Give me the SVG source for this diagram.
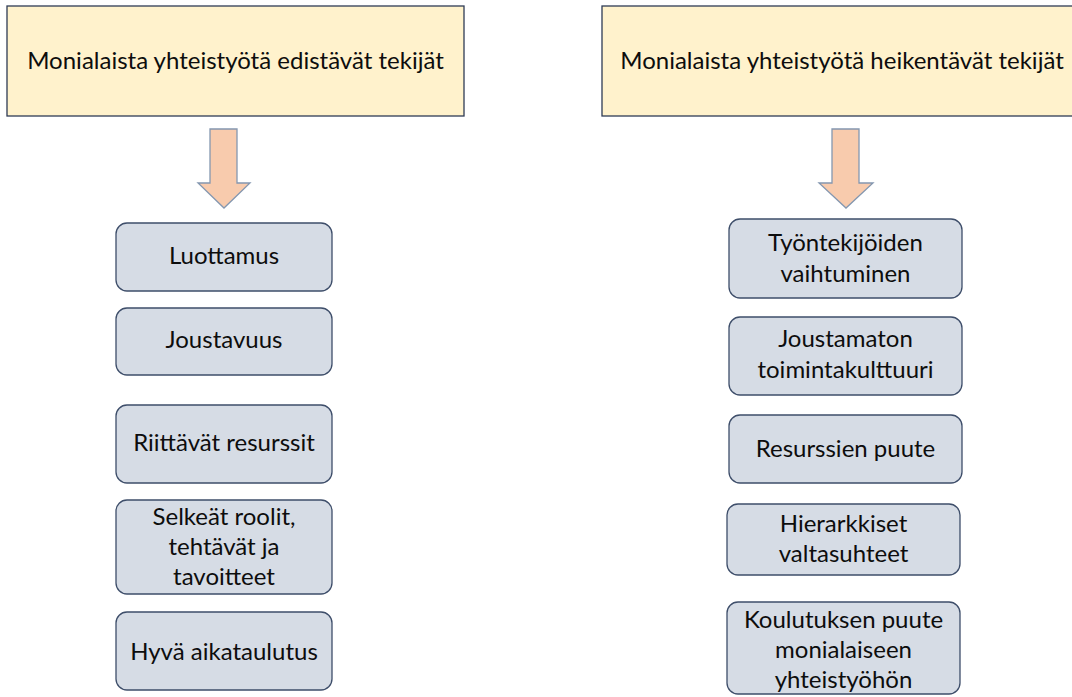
<svg xmlns="http://www.w3.org/2000/svg" width="1072" height="697" viewBox="0 0 1072 697">
  <style>
    .head { fill: #FFF2CC; stroke: #2F3B55; stroke-width: 1.3; }
    .item { fill: #D6DCE5; stroke: #3E4E6A; stroke-width: 1.3; }
    .arrow { fill: #F8CBAD; stroke: #8497B0; stroke-width: 1.3; stroke-linejoin: miter; }
    text { font-family: Lato, "Liberation Sans", sans-serif; font-size: 24px; fill: #0d0d0d; text-anchor: middle; }
  </style>
  <rect width="1072" height="697" fill="#fff"/>

  <!-- column headers -->
  <g id="head-left">
    <rect class="head" x="7" y="6" width="457" height="110"/>
    <text x="235.5" y="69">Monialaista yhteistyötä edistävät tekijät</text>
  </g>
  <g id="head-right">
    <rect class="head" x="602" y="6" width="480" height="110"/>
    <text x="842" y="69">Monialaista yhteistyötä heikentävät tekijät</text>
  </g>

  <!-- block arrows -->
  <g id="connectors">
    <polygon class="arrow" points="210,129 237,129 237,183 250,183 224,208 198,183 210,183"/>
    <polygon class="arrow" points="832,129 859,129 859,183 873,183 846,208 819,183 832,183"/>
  </g>

  <!-- promoting factors -->
  <g id="luottamus">
    <rect class="item" x="116" y="223" width="216" height="68" rx="11"/>
    <text x="224" y="264">Luottamus</text>
  </g>
  <g id="joustavuus">
    <rect class="item" x="116" y="308" width="216" height="67" rx="11"/>
    <text x="224" y="348">Joustavuus</text>
  </g>
  <g id="resurssit">
    <rect class="item" x="116" y="405" width="216" height="78" rx="11"/>
    <text x="224" y="451">Riittävät resurssit</text>
  </g>
  <g id="roolit">
    <rect class="item" x="116" y="500" width="216" height="94" rx="11"/>
    <text x="224" y="525">Selkeät roolit,</text>
    <text x="224" y="555">tehtävät ja</text>
    <text x="224" y="585">tavoitteet</text>
  </g>
  <g id="aikataulutus">
    <rect class="item" x="116" y="612" width="216" height="78" rx="11"/>
    <text x="224" y="660">Hyvä aikataulutus</text>
  </g>

  <!-- weakening factors -->
  <g id="vaihtuminen">
    <rect class="item" x="729" y="219" width="233" height="79" rx="11"/>
    <text x="845.5" y="251">Työntekijöiden</text>
    <text x="845.5" y="282">vaihtuminen</text>
  </g>
  <g id="toimintakulttuuri">
    <rect class="item" x="729" y="317" width="233" height="78" rx="11"/>
    <text x="845.5" y="347">Joustamaton</text>
    <text x="845.5" y="378">toimintakulttuuri</text>
  </g>
  <g id="puute">
    <rect class="item" x="729" y="415" width="233" height="68" rx="11"/>
    <text x="845.5" y="457">Resurssien puute</text>
  </g>
  <g id="valtasuhteet">
    <rect class="item" x="727" y="504" width="233" height="71" rx="11"/>
    <text x="843.5" y="532">Hierarkkiset</text>
    <text x="843.5" y="562">valtasuhteet</text>
  </g>
  <g id="koulutus">
    <rect class="item" x="727" y="602" width="233" height="92" rx="11"/>
    <text x="843.5" y="628">Koulutuksen puute</text>
    <text x="843.5" y="658">monialaiseen</text>
    <text x="843.5" y="688">yhteistyöhön</text>
  </g>
</svg>
